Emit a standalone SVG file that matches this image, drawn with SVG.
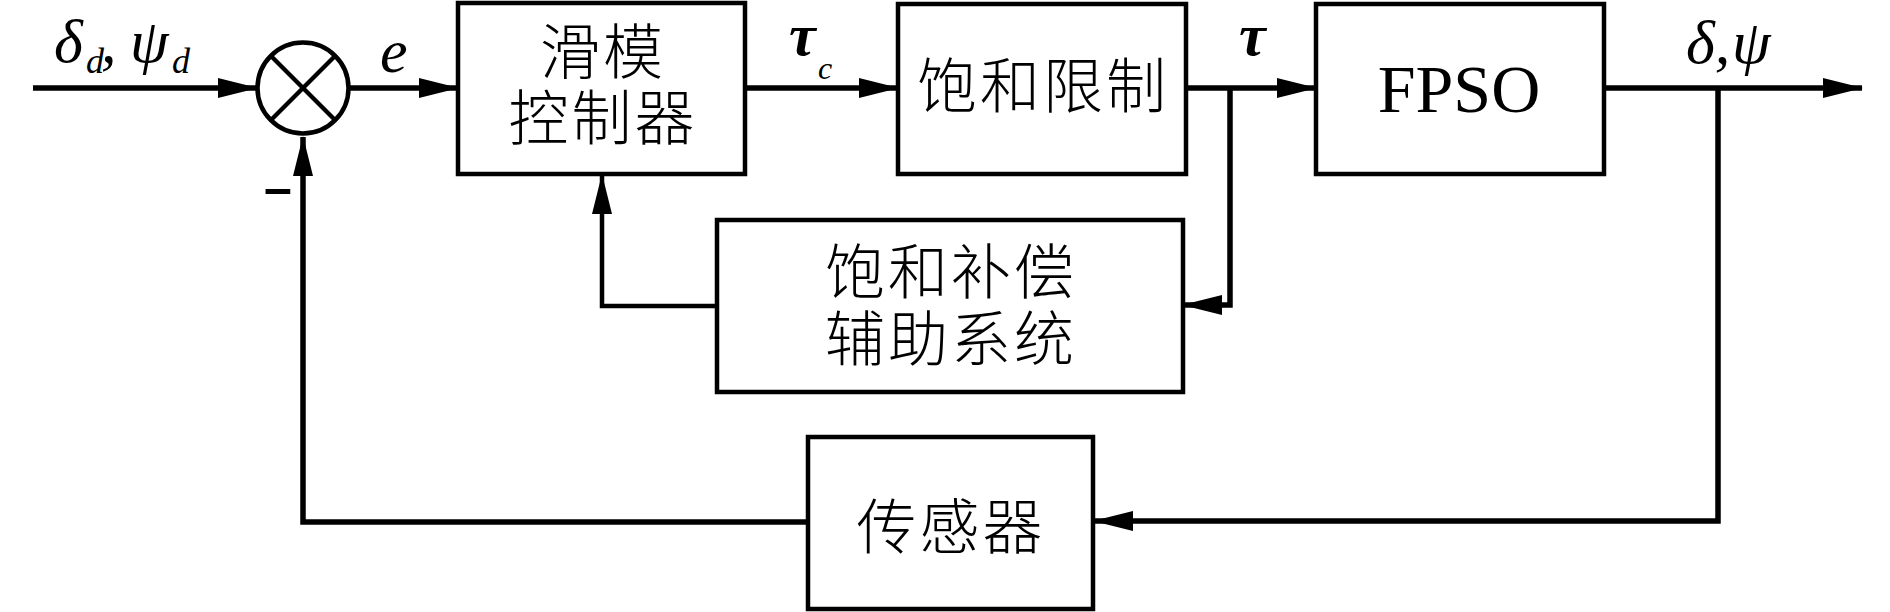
<svg xmlns="http://www.w3.org/2000/svg" width="1890" height="612" viewBox="0 0 1890 612">
<style>
.box{fill:#fff;stroke:#000;stroke-width:4.5}
.ln{fill:none;stroke:#000;stroke-width:5.5;stroke-linejoin:miter;stroke-linecap:butt}
.thin{stroke-width:4.5}
.cjk{font-family:"Noto Sans CJK SC","Noto Sans CJK TC",sans-serif;font-size:60px;font-weight:300;letter-spacing:3px;fill:#000;text-anchor:middle}
.math{font-family:"Liberation Serif","Times New Roman",serif;font-style:italic;fill:#000}
.rm{font-family:"Liberation Serif","Times New Roman",serif;fill:#000;text-anchor:middle}
</style>
<defs>
<marker id="arr" markerUnits="userSpaceOnUse" markerWidth="40" markerHeight="20" viewBox="0 0 40 20" refX="39" refY="10" orient="auto">
<path d="M0,0 L40,10 L0,20 z" fill="#000"/>
</marker>
</defs>
<rect width="1890" height="612" fill="#fff"/>
<g id="connectors">
<line class="ln" x1="33" y1="88" x2="257" y2="88" marker-end="url(#arr)"/>
<line class="ln" x1="349" y1="88" x2="458" y2="88" marker-end="url(#arr)"/>
<line class="ln" x1="745" y1="88" x2="898" y2="88" marker-end="url(#arr)"/>
<line class="ln" x1="1186" y1="88" x2="1316" y2="88" marker-end="url(#arr)"/>
<line class="ln" x1="1604" y1="88" x2="1862" y2="88" marker-end="url(#arr)"/>
<polyline class="ln" points="1230,88 1230,305 1183,305" marker-end="url(#arr)"/>
<polyline class="ln thin" points="717,306 602,306 602,175" marker-end="url(#arr)"/>
<polyline class="ln" points="1718,88 1718,521 1094,521" marker-end="url(#arr)"/>
<polyline class="ln" points="808,522 303,522 303,137" marker-end="url(#arr)"/>
</g>
<g id="sum">
<circle cx="303" cy="88" r="45.5" fill="#fff" stroke="#000" stroke-width="4.5"/>
<line x1="271" y1="56" x2="335" y2="120" stroke="#000" stroke-width="4.5"/>
<line x1="335" y1="56" x2="271" y2="120" stroke="#000" stroke-width="4.5"/>
<text x="278" y="205" font-family="Liberation Sans, Arial, sans-serif" font-weight="bold" font-size="50" text-anchor="middle">–</text>
</g>
<g id="smc">
<rect class="box" x="458" y="3" width="287" height="171"/>
<text class="cjk"><tspan x="603" y="74">滑模</tspan><tspan x="603" y="140">控制器</tspan></text>
</g>
<g id="sat">
<rect class="box" x="898" y="4" width="288" height="170"/>
<text class="cjk" x="1043" y="108">饱和限制</text>
</g>
<g id="fpso">
<rect class="box" x="1316" y="4" width="288" height="170"/>
<text class="rm" x="1459" y="112" font-size="68">FPSO</text>
</g>
<g id="aux">
<rect class="box" x="717" y="220" width="466" height="172"/>
<text class="cjk"><tspan x="951" y="294">饱和补偿</tspan><tspan x="951" y="361">辅助系统</tspan></text>
</g>
<g id="sensor">
<rect class="box" x="808" y="437" width="285" height="172"/>
<text class="cjk" x="951" y="549">传感器</text>
</g>
<g id="labels">
<text class="math" y="62" font-size="62"><tspan x="54">δ</tspan><tspan x="86" y="73" font-size="36">d</tspan><tspan x="101" y="62">,</tspan><tspan x="130">ψ</tspan><tspan x="172" y="73" font-size="36">d</tspan></text>
<text class="math" x="380" y="72" font-size="62">e</text>
<text class="math" x="789" y="55" font-size="60" font-weight="bold">τ</text>
<text class="math" x="818" y="79" font-size="32">c</text>
<text class="math" x="1239" y="55" font-size="60" font-weight="bold">τ</text>
<text class="math" x="1686" y="63" font-size="62">δ<tspan>,</tspan><tspan x="1732">ψ</tspan></text>
</g>
</svg>
